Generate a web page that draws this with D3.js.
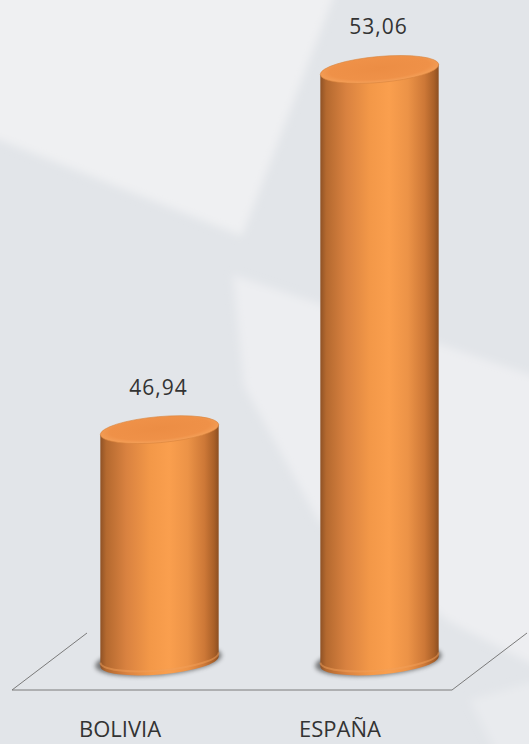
<!DOCTYPE html>
<html>
<head>
<meta charset="utf-8">
<script src="https://cdn.jsdelivr.net/npm/d3@7"></script>
<style>
  html, body { margin: 0; padding: 0; background: #e2e5e9; }
  svg { display: block; }
</style>
</head>
<body>
<script>
// ---- data ----
const categories = ["BOLIVIA", "ESPAÑA"];
const values = [46.94, 53.06];
const valueLabels = ["46,94", "53,06"];
const axisDomain = [43, 54];

// ---- layout ----
const W = 529, H = 744;
const floorY = 690;             // front edge of the floor
const floorX0 = 12, floorX1 = 452;
const depth = { dx: 75, dy: -57 };
const tilt = -5;                // ellipse rotation (deg)

const svg = d3.select("body").append("svg")
  .attr("width", W).attr("height", H)
  .style("font-family", "'Open Sans', 'Noto Sans', sans-serif");

const defs = svg.append("defs");
defs.append("filter").attr("id", "soft").attr("x", "-20%").attr("y", "-20%").attr("width", "140%").attr("height", "140%")
  .append("feGaussianBlur").attr("stdDeviation", 4);
defs.append("filter").attr("id", "shadowBlur").attr("x", "-30%").attr("y", "-100%").attr("width", "160%").attr("height", "300%")
  .append("feGaussianBlur").attr("stdDeviation", 2.2);

const bodyGrad = defs.append("linearGradient").attr("id", "bodyGrad")
  .attr("x1", 0).attr("x2", 1).attr("y1", 0).attr("y2", 0);
[[0, "#8f5226"], [0.05, "#b4692f"], [0.22, "#d98240"], [0.42, "#f39848"], [0.58, "#fa9f4e"],
 [0.74, "#ec9347"], [0.88, "#cd7837"], [0.96, "#aa6028"], [1, "#8c4f22"]]
  .forEach(([o, c]) => bodyGrad.append("stop").attr("offset", o).attr("stop-color", c));

const topGrad = defs.append("radialGradient").attr("id", "topGrad")
  .attr("cx", 0.5).attr("cy", 0.45).attr("r", 0.6);
[[0, "#ec8d44"], [0.7, "#ef9148"], [1, "#f7a862"]]
  .forEach(([o, c]) => topGrad.append("stop").attr("offset", o).attr("stop-color", c));

// ---- background ----
svg.append("rect").attr("width", W).attr("height", H).attr("fill", "#e2e5e9");
const bg = svg.append("g").attr("filter", "url(#soft)");
bg.append("polygon").attr("points", "-20,-20 340,-20 242,236 -20,132").attr("fill", "#eff0f2");
bg.append("polygon").attr("points", "233,275 540,378 540,668 450,622 318,520 244,386").attr("fill", "#edeef1");
bg.append("polygon").attr("points", "470,700 540,680 540,760 500,760").attr("fill", "#e9ebee");

// ---- scales ----
const x = d3.scaleBand().domain(categories).range([floorX0, floorX1]).paddingInner(0).paddingOuter(0);
const baseY = floorY + depth.dy / 2;             // bar base (mid depth)
const y = d3.scaleLinear().domain(axisDomain).range([baseY, baseY - 11 * 58.85]);

// ---- floor ----
const floor = svg.append("g").attr("stroke", "#7a7a7a").attr("stroke-width", 1).attr("fill", "none");
floor.append("line").attr("x1", floorX0).attr("y1", floorY).attr("x2", floorX1).attr("y2", floorY);
floor.append("line").attr("x1", floorX0).attr("y1", floorY).attr("x2", floorX0 + depth.dx).attr("y2", floorY + depth.dy);
floor.append("line").attr("x1", floorX1).attr("y1", floorY).attr("x2", floorX1 + depth.dx).attr("y2", floorY + depth.dy);

// ---- cylinders ----
const rx = x.bandwidth() * 0.27, ry = 13;
const th = tilt * Math.PI / 180;
const ox = rx * Math.cos(th), oy = rx * Math.sin(th);

const data = categories.map((c, i) => ({ c, v: values[i], lab: valueLabels[i] }));
const bars = svg.append("g").selectAll("g").data(data).join("g");

bars.each(function(d) {
  const g = d3.select(this);
  const cx = x(d.c) + x.bandwidth() / 2 + depth.dx / 2;
  const cb = baseY;
  const ct = y(d.v);
  // shadow
  g.append("ellipse").attr("cx", cx - 1).attr("cy", cb - 1).attr("rx", rx + 4).attr("ry", ry + 2)
    .attr("transform", `rotate(${tilt},${cx},${cb})`)
    .attr("fill", "#4a4a4a").attr("opacity", 0.7).attr("filter", "url(#shadowBlur)");
  // body
  const body = `M${cx - ox},${ct - oy} L${cx - ox},${cb - oy} A${rx},${ry} ${tilt} 0 0 ${cx + ox},${cb + oy} L${cx + ox},${ct + oy} Z`;
  g.append("path").attr("d", body).attr("fill", "url(#bodyGrad)");
  // subtle bottom highlight band
  g.append("path")
    .attr("d", `M${cx - ox},${cb - oy} A${rx},${ry} ${tilt} 0 0 ${cx + ox},${cb + oy}`)
    .attr("fill", "none").attr("stroke", "#f2a05a").attr("stroke-width", 2).attr("opacity", 0.5)
    .attr("transform", "translate(0,-4)");
  // top
  g.append("ellipse").attr("cx", cx).attr("cy", ct).attr("rx", rx).attr("ry", ry)
    .attr("transform", `rotate(${tilt},${cx},${ct})`)
    .attr("fill", "url(#topGrad)").attr("stroke", "#d8823c").attr("stroke-width", 0.6);
  // value label
  g.append("text").attr("x", cx - 1).attr("y", ct - 35)
    .attr("text-anchor", "middle").attr("font-size", 21).attr("letter-spacing", 1)
    .attr("fill", "#333").text(d.lab);
});

// ---- category labels (front edge) ----
svg.append("g").selectAll("text").data(categories).join("text")
  .attr("x", d => x(d) + x.bandwidth() / 2 - 2)
  .attr("y", 737)
  .attr("text-anchor", "middle").attr("font-size", 22)
  .attr("fill", "#333").text(d => d);
</script>
</body>
</html>
